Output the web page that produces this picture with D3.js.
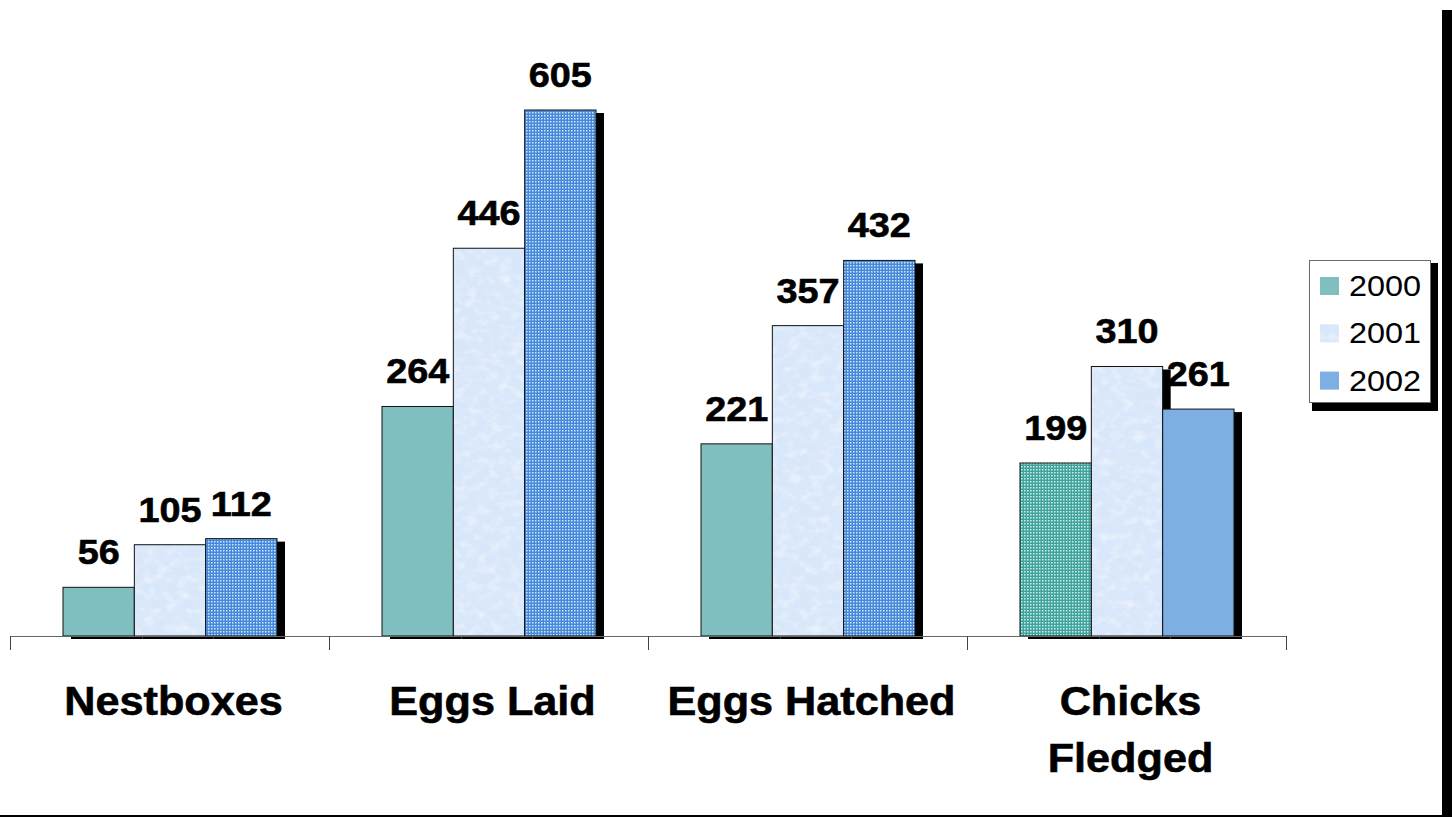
<!DOCTYPE html>
<html><head><meta charset="utf-8">
<script src="https://cdn.jsdelivr.net/npm/d3@7"></script>
<style>
html,body{margin:0;padding:0;background:#fff;}
svg{display:block;}
text{font-family:"Liberation Sans",Arial,sans-serif;}
</style></head>
<body>
<script>
const categories = ["Nestboxes", "Eggs Laid", "Eggs Hatched", "Chicks Fledged"];
const categoryLines = [["Nestboxes"], ["Eggs Laid"], ["Eggs Hatched"], ["Chicks", "Fledged"]];
const years = ["2000", "2001", "2002"];
const values2000 = [56, 264, 221, 199];
const values2001 = [105, 446, 357, 310];
const values2002 = [112, 605, 432, 261];
const seriesValues = [values2000, values2001, values2002];

const W = 1452, H = 817;
const svg = d3.select("body").append("svg").attr("width", W).attr("height", H);
const defs = svg.append("defs");

function checker(id, base, light) {
  const p = defs.append("pattern").attr("id", id).attr("patternUnits", "userSpaceOnUse")
    .attr("width", 3).attr("height", 3);
  p.append("rect").attr("width", 3).attr("height", 3).attr("fill", base);
  p.append("rect").attr("x", 1).attr("y", 1).attr("width", 1.5).attr("height", 1.5).attr("fill", light);
}
checker("blueCheck", "#4589DA", "#D4E5F8");
checker("tealCheck", "#3FA49E", "#D2ECE9");

const flt = defs.append("filter").attr("id", "paper").attr("x", 0).attr("y", 0).attr("width", 1).attr("height", 1);
flt.append("feTurbulence").attr("type", "fractalNoise").attr("baseFrequency", "0.09 0.12").attr("numOctaves", 3).attr("seed", 7).attr("result", "n");
flt.append("feColorMatrix").attr("in", "n").attr("type", "matrix")
  .attr("values", "0 0 0 0 1  0 0 0 0 1  0 0 0 0 1  1.1 0 0 0 -0.5").attr("result", "w");
flt.append("feComposite").attr("in", "w").attr("in2", "SourceGraphic").attr("operator", "in");

const teal = "#80BFBF", blueSolid = "#7DAFE3", paperBase = "#D9E7FA";
function fillFor(si, ci) {
  if (si === 0) return categories[ci] === "Chicks Fledged" ? "url(#tealCheck)" : teal;
  if (si === 1) return paperBase;
  return categories[ci] === "Chicks Fledged" ? blueSolid : "url(#blueCheck)";
}

const x0 = d3.scaleBand().domain(categories).range([10, 1286]);
const x1 = d3.scaleBand().domain(years).range([53, 267]);
const y = d3.scaleLinear().domain([0, 700]).range([636, 636 - 700 * 0.8694]);

const tf = (x, yy) => `translate(${x},${yy}) scale(1.08,1)`;

svg.append("rect").attr("x", 1442).attr("y", 10).attr("width", 10).attr("height", H - 10).attr("fill", "#000");
svg.append("rect").attr("x", 0).attr("y", 815).attr("width", W).attr("height", 2).attr("fill", "#000");

const data = [];
categories.forEach((c, ci) => years.forEach((yr, si) => data.push({c, ci, yr, si, v: seriesValues[si][ci]})));

const g = svg.append("g");
data.forEach(d => {
  const bx = x0(d.c) + x1(d.yr), bw = x1.bandwidth(), by = y(d.v), bh = y(0) - y(d.v);
  g.append("rect").attr("x", bx + 8).attr("y", by + 3).attr("width", bw).attr("height", bh).attr("fill", "#000");
  g.append("rect").attr("x", bx).attr("y", by).attr("width", bw).attr("height", bh)
    .attr("fill", fillFor(d.si, d.ci)).attr("stroke", "#111").attr("stroke-width", 1);
  if (d.si === 1) {
    g.append("rect").attr("x", bx + 1).attr("y", by + 1).attr("width", bw - 2).attr("height", bh - 2)
      .attr("fill", "#fff").attr("filter", "url(#paper)");
  }
});

const axisG = svg.append("g");
axisG.append("line").attr("x1", 10).attr("x2", 1286).attr("y1", 636.5).attr("y2", 636.5)
  .attr("stroke", "#666").attr("stroke-width", 1.2);
const edges = categories.map(c => x0(c)).concat([x0.range()[1]]);
edges.forEach(e => axisG.append("line").attr("x1", Math.round(e) + 0.5).attr("x2", Math.round(e) + 0.5)
  .attr("y1", 636).attr("y2", 650).attr("stroke", "#444").attr("stroke-width", 1));

data.forEach(d => {
  const cx = x0(d.c) + x1(d.yr) + x1.bandwidth() / 2;
  svg.append("text").attr("transform", tf(cx, y(d.v) - 23)).attr("text-anchor", "middle")
    .attr("font-size", 35).attr("font-weight", "bold").attr("fill", "#000")
    .attr("stroke", "#000").attr("stroke-width", 0.6).text(d.v);
});

categoryLines.forEach((lines, ci) => {
  const cx = x0(categories[ci]) + x0.bandwidth() / 2 + 4;
  lines.forEach((ln, li) => {
    svg.append("text").attr("transform", tf(cx, 715 + li * 57)).attr("text-anchor", "middle")
      .attr("font-size", 40).attr("font-weight", "bold").attr("fill", "#000")
      .attr("stroke", "#000").attr("stroke-width", 0.6).text(ln);
  });
});

const lg = svg.append("g");
lg.append("rect").attr("x", 1431).attr("y", 263).attr("width", 7).attr("height", 148).attr("fill", "#000");
lg.append("rect").attr("x", 1312).attr("y", 403).attr("width", 126).attr("height", 8).attr("fill", "#000");
lg.append("rect").attr("x", 1309.5).attr("y", 260.5).attr("width", 121).attr("height", 142)
  .attr("fill", "#fff").attr("stroke", "#6a6a6a").attr("stroke-width", 1);
const legFills = [teal, paperBase, blueSolid];
years.forEach((yr, i) => {
  const base = 296 + i * 47.3;
  lg.append("rect").attr("x", 1320).attr("y", base - 19).attr("width", 19).attr("height", 18).attr("fill", legFills[i]);
  if (i === 1) lg.append("rect").attr("x", 1320).attr("y", base - 19).attr("width", 19).attr("height", 18)
      .attr("fill", "#fff").attr("filter", "url(#paper)");
  lg.append("text").attr("transform", tf(1349, base)).attr("font-size", 30).attr("fill", "#000").text(yr);
});
</script>
</body></html>
